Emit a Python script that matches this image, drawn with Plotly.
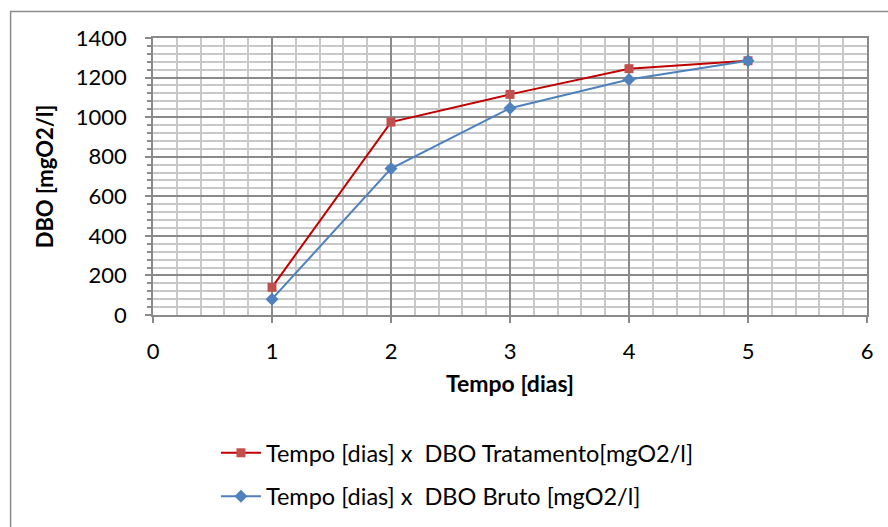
import plotly.graph_objects as go

# Dias de incubação e DBO medida
tempo = [1, 2, 3, 4, 5]
dbo_tratamento = [140, 975, 1115, 1245, 1285]
dbo_bruto = [80, 740, 1045, 1190, 1285]

nome_tratamento = "Tempo [dias] x\u00a0\u00a0DBO Tratamento[mgO2/l]"
nome_bruto = "Tempo [dias] x\u00a0\u00a0DBO Bruto [mgO2/l]"

W, H = 888, 527
L, R, T, B = 153, 867.5, 38, 315

FONT = "Lato, Carlito, Calibri, sans-serif"
MAJOR = "#8a8a8a"
MINOR = "#c8c8c8"
FS = 22

fig = go.Figure()
fig.add_trace(go.Scatter(
    x=tempo, y=dbo_tratamento, name=nome_tratamento, mode="lines+markers",
    legendgroup="a",
    line=dict(color="#c00000", width=2),
    marker=dict(symbol="square", size=9, color="#c0504d"),
))
fig.add_trace(go.Scatter(
    x=tempo, y=dbo_bruto, name=nome_bruto, mode="lines+markers",
    legendgroup="b",
    line=dict(color="#4f81bd", width=2),
    marker=dict(symbol="diamond", size=10, color="#4f81bd"),
))

pw, ph = R - L, B - T

def px(x):
    return (x - L) / pw

def py(y):
    return (B - y) / ph

# moldura externa do gráfico
fig.add_shape(type="rect", xref="paper", yref="paper",
              x0=px(10.5), x1=px(920), y0=py(11.5), y1=py(560),
              line=dict(color="#8c8c8c", width=1.5), fillcolor="rgba(0,0,0,0)")

fig.update_layout(
    width=W, height=H,
    margin=dict(l=L, r=W - R, t=T, b=H - B, autoexpand=False),
    paper_bgcolor="white", plot_bgcolor="white",
    font=dict(family=FONT, size=FS, color="#000000"),
    showlegend=True,
    legend=dict(x=px(216), y=py(431), xanchor="left", yanchor="top",
                font=dict(size=23.5, family=FONT), tracegroupgap=10,
                itemwidth=40, bgcolor="rgba(0,0,0,0)"),
    xaxis=dict(
        range=[0, 6], dtick=1, tick0=0, automargin=False,
        showgrid=True, gridcolor=MAJOR, gridwidth=1.5,
        minor=dict(dtick=0.2, showgrid=True, gridcolor=MINOR, gridwidth=1.5),
        showline=True, linecolor=MAJOR, linewidth=1.5, mirror=True,
        ticks="outside", ticklen=6, tickcolor=MAJOR, tickwidth=1.5,
        ticklabelstandoff=10,
        zeroline=False,
        title=dict(text="<b>Tempo [dias]</b>", font=dict(size=23, family=FONT), standoff=13),
        tickfont=dict(size=FS),
    ),
    yaxis=dict(
        range=[0, 1400], dtick=200, tick0=0, automargin=False,
        showgrid=True, gridcolor=MAJOR, gridwidth=1.5,
        minor=dict(dtick=40, showgrid=True, gridcolor=MINOR, gridwidth=1.5,
                   ticks="outside", ticklen=4, tickcolor=MAJOR),
        showline=True, linecolor=MAJOR, linewidth=1.5, mirror=True,
        ticks="outside", ticklen=6, tickcolor=MAJOR, tickwidth=1.5,
        ticklabelstandoff=14,
        zeroline=False,
        title=dict(text="<b>DBO [mgO2/l]</b>", font=dict(size=FS, family=FONT), standoff=16),
        tickfont=dict(size=FS),
    ),
)

fig.write_html("out.html")
